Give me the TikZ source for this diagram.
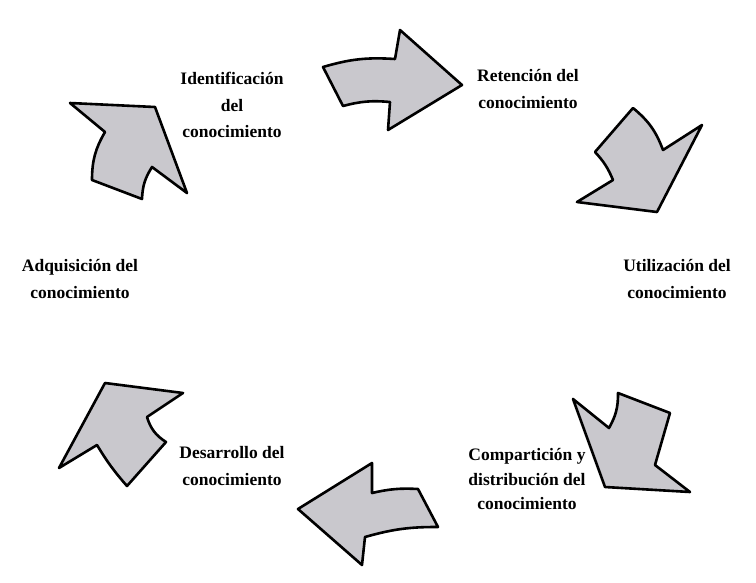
\documentclass[tikz,border=0pt]{standalone}
\usepackage{fontspec}
\setmainfont{Liberation Serif}
\definecolor{arrowgray}{RGB}{201,200,205}
\begin{document}
\begin{tikzpicture}[x=1pt,y=-1pt,
  arrowshape/.style={draw=black, line width=2.6pt, fill=arrowgray, line join=round},
  lbl/.style={font=\bfseries\fontsize{17.5}{26.5}\selectfont, align=center, inner sep=0pt}]
\useasboundingbox (0,0) rectangle (756,582);
% arrows
\draw[arrowshape] (323,67) to[bend left=10] (395,59) -- (400,30) -- (462,85) -- (388,130) -- (390,102) to[bend right=10] (343,106) -- cycle;
\draw[arrowshape] (633,108) to[bend left=15] (663,150) -- (702,125) -- (657,212) -- (577,202) -- (613,180) to[bend right=10] (595,152) -- cycle;
\draw[arrowshape] (573,399) -- (609,428) to[bend right=15] (618,393) -- (670,413) -- (655,465) -- (690,492) -- (605,487) -- cycle;
\draw[arrowshape] (298,509) -- (372,463) -- (372,493) to[bend left=8] (418,489) -- (438,527) to[bend right=8] (365,537) -- (362,565) -- cycle;
\draw[arrowshape] (105,383) -- (183,393) -- (147,417) to[bend right=20] (166,442) -- (127,486) to[bend left=5] (97,445) -- (59,468) -- cycle;
\draw[arrowshape] (70,103) -- (155,107) -- (187,193) -- (152,167) to[bend right=15] (142,199) -- (92,180) to[bend left=15] (105,132) -- cycle;
% labels
\node[lbl] (ident) at (232,105) {Identificación\\del\\conocimiento};
\node[lbl] (ret) at (528,89) {Retención del\\conocimiento};
\node[lbl] (util) at (677,279) {Utilización del\\conocimiento};
\node[lbl, font=\bfseries\fontsize{17.5}{24.5}\selectfont] (comp) at (527,479) {Compartición y\\distribución del\\conocimiento};
\node[lbl] (des) at (232,466) {Desarrollo del\\conocimiento};
\node[lbl] (adq) at (80,279) {Adquisición del\\conocimiento};
\end{tikzpicture}
\end{document}
